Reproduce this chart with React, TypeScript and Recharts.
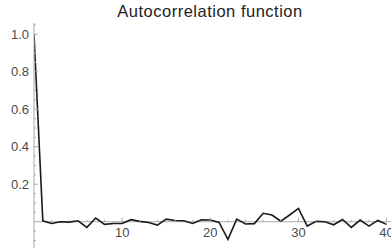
import React from "react";
import { LineChart, Line, XAxis, YAxis, ReferenceLine } from "recharts";

const lags = [
  0, 1, 2, 3, 4, 5, 6, 7, 8, 9, 10, 11, 12, 13, 14, 15, 16, 17, 18, 19, 20,
  21, 22, 23, 24, 25, 26, 27, 28, 29, 30, 31, 32, 33, 34, 35, 36, 37, 38, 39, 40,
];
const acf = [
  1.0, 0.005, -0.009, 0.0, -0.002, 0.005, -0.03, 0.02, -0.014, -0.009, -0.009,
  0.011, 0.002, -0.004, -0.018, 0.014, 0.007, 0.005, -0.009, 0.011, 0.009,
  -0.004, -0.094, 0.014, -0.012, -0.01, 0.045, 0.036, 0.003, 0.036, 0.071,
  -0.023, 0.002, 0.0, -0.016, 0.012, -0.03, 0.009, -0.023, 0.007, -0.014,
];
const xTicks = [10, 20, 30, 40];
const xMinorTicks = [2, 4, 6, 8, 12, 14, 16, 18, 22, 24, 26, 28, 32, 34, 36, 38];
const yTicks = [0.2, 0.4, 0.6, 0.8, 1.0];
const yMinorTicks = [-0.1, -0.05, 0.05, 0.1, 0.15, 0.25, 0.3, 0.35, 0.45, 0.5, 0.55, 0.65, 0.7, 0.75, 0.85, 0.9, 0.95, 1.05];

const data = lags.map((lag, i) => ({ lag, value: acf[i] }));

const W = 391;
const H = 250;
const TOP = 23;
const X_AXIS_H = 2;
const Y_MIN = -0.14;
const Y_MAX = 1.06;
const AXIS_X = 34;
const zeroY = TOP + ((H - TOP - X_AXIS_H) * Y_MAX) / (Y_MAX - Y_MIN);

const axisColor = "#aaaaaa";
const labelColor = "#4a4a4a";
const font = "'Liberation Sans', Arial, sans-serif";

const XTick = (props: any) => {
  const { x, payload } = props;
  const major = xTicks.includes(payload.value);
  return (
    <g>
      <line x1={x} x2={x} y1={zeroY} y2={zeroY - (major ? 4 : 2)} stroke={axisColor} />
      {major && (
        <text x={x} y={zeroY + 15} textAnchor="middle" fontSize={13} fill={labelColor} fontFamily={font}>
          {payload.value}
        </text>
      )}
    </g>
  );
};

const YTick = (props: any) => {
  const { y, payload } = props;
  const major = yTicks.some((t) => Math.abs(t - payload.value) < 1e-6);
  return (
    <g>
      <line x1={AXIS_X} x2={AXIS_X + (major ? 4 : 2)} y1={y} y2={y} stroke={axisColor} />
      {major && (
        <text x={AXIS_X - 5} y={y + 4.5} textAnchor="end" fontSize={13} fill={labelColor} fontFamily={font}>
          {payload.value.toFixed(1)}
        </text>
      )}
    </g>
  );
};

const App = () => {
  return (
    <div style={{ position: "absolute", left: 0, top: 0, width: W, height: H, background: "#fff" }}>
      <LineChart width={W} height={H} data={data} margin={{ top: TOP, right: 0, bottom: 0, left: 0 }}>
        <text x={210} y={17} textAnchor="middle" fontSize={16.5} fill="#222" fontFamily={font} letterSpacing={0.5}>
          Autocorrelation function
        </text>
        <XAxis
          dataKey="lag"
          type="number"
          domain={[0, 40.5]}
          ticks={[...xMinorTicks, ...xTicks].sort((a, b) => a - b)}
          height={X_AXIS_H}
          axisLine={false}
          tickLine={false}
          tick={<XTick />}
          interval={0}
          allowDataOverflow
        />
        <YAxis
          type="number"
          domain={[Y_MIN, Y_MAX]}
          ticks={[...yMinorTicks, ...yTicks].sort((a, b) => a - b)}
          width={AXIS_X}
          axisLine={{ stroke: axisColor }}
          tickLine={false}
          tick={<YTick />}
          interval={0}
          allowDataOverflow
        />
        <ReferenceLine y={0} stroke={axisColor} />
        <Line
          type="linear"
          dataKey="value"
          stroke="#1a1a1a"
          strokeWidth={1.6}
          dot={false}
          isAnimationActive={false}
        />
      </LineChart>
    </div>
  );
};

export default App;
